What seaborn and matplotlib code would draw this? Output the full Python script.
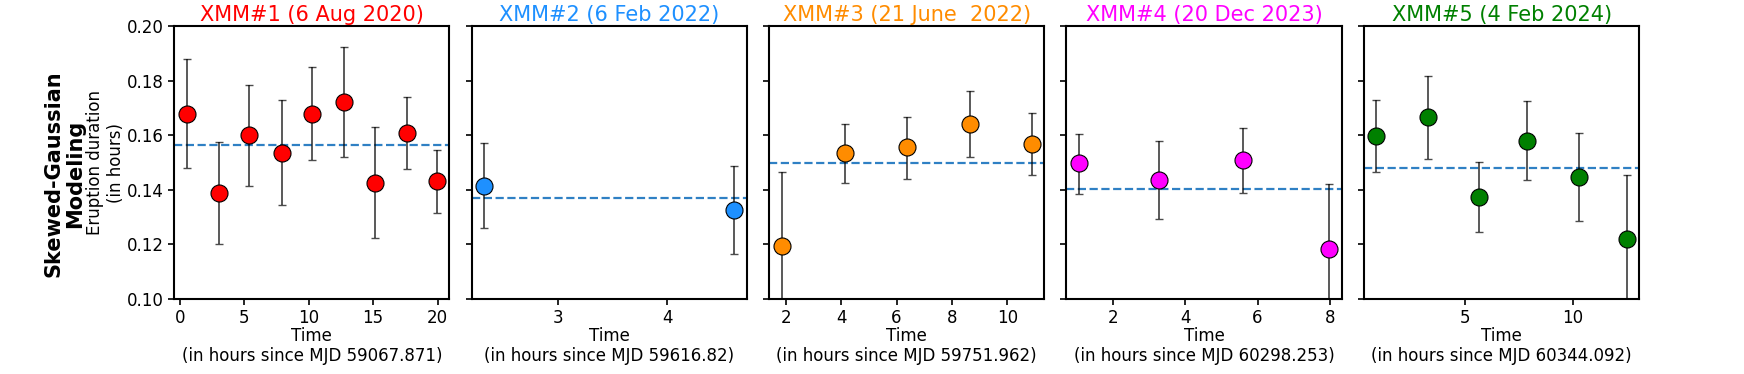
import matplotlib
matplotlib.use("Agg")
import matplotlib.pyplot as plt
import seaborn as sns
import pandas as pd

# ---- data ----
titles = ["XMM#1 (6 Aug 2020)", "XMM#2 (6 Feb 2022)", "XMM#3 (21 June  2022)",
          "XMM#4 (20 Dec 2023)", "XMM#5 (4 Feb 2024)"]
colors = ["red", "dodgerblue", "darkorange", "magenta", "green"]
xlabels = ["Time\n(in hours since MJD 59067.871)", "Time\n(in hours since MJD 59616.82)",
           "Time\n(in hours since MJD 59751.962)", "Time\n(in hours since MJD 60298.253)",
           "Time\n(in hours since MJD 60344.092)"]
xticks_list = [[0, 5, 10, 15, 20], [3, 4], [2, 4, 6, 8, 10], [2, 4, 6, 8], [5, 10]]

t1 = [0.52, 3.0, 5.36, 7.9, 10.23, 12.77, 15.15, 17.6, 19.95]
d1 = [0.1679, 0.1388, 0.1601, 0.1535, 0.1679, 0.1722, 0.1426, 0.1609, 0.1433]
lo1 = [0.0200, 0.0188, 0.0186, 0.0192, 0.0171, 0.0202, 0.0201, 0.0134, 0.0116]
hi1 = [0.0199, 0.0188, 0.0184, 0.0194, 0.0170, 0.0202, 0.0203, 0.0132, 0.0115]
m1 = 0.1563

t2 = [2.315, 4.62]
d2 = [0.1416, 0.1326]
lo2 = [0.0157, 0.0162]
hi2 = [0.0157, 0.0162]
m2 = 0.1370

t3 = [1.84, 4.13, 6.36, 8.65, 10.89]
d3 = [0.1193, 0.1534, 0.1556, 0.1642, 0.1568]
lo3 = [0.0272, 0.0109, 0.0116, 0.0121, 0.0115]
hi3 = [0.0272, 0.0107, 0.0112, 0.0122, 0.0115]
m3 = 0.1498

t4 = [1.05, 3.28, 5.60, 7.99]
d4 = [0.1497, 0.1436, 0.1508, 0.1182]
lo4 = [0.0112, 0.0144, 0.0118, 0.0238]
hi4 = [0.0109, 0.0144, 0.0117, 0.0238]
m4 = 0.1405

t5 = [0.855, 3.26, 5.62, 7.87, 10.26, 12.51]
d5 = [0.1596, 0.1667, 0.1375, 0.1580, 0.1449, 0.1220]
lo5 = [0.0132, 0.0155, 0.0131, 0.0145, 0.0162, 0.0234]
hi5 = [0.0132, 0.0151, 0.0128, 0.0145, 0.0160, 0.0234]
m5 = 0.1481

times = [t1, t2, t3, t4, t5]
durs = [d1, d2, d3, d4, d5]
lows = [lo1, lo2, lo3, lo4, lo5]
highs = [hi1, hi2, hi3, hi4, hi5]
means = [m1, m2, m3, m4, m5]

yticks = [0.10, 0.12, 0.14, 0.16, 0.18, 0.20]

# ---- figure ----
fig, axes = plt.subplots(1, 5, figsize=(17.44, 3.74), dpi=100, sharey=True)
fig.subplots_adjust(left=0.0998, right=0.94, top=0.930, bottom=0.2005, wspace=0.08)

for i, ax in enumerate(axes):
    df = pd.DataFrame({"t": times[i], "d": durs[i]})
    ax.errorbar(times[i], durs[i], yerr=[lows[i], highs[i]], fmt="none",
                ecolor="black", alpha=0.7, elinewidth=1.3, capsize=3, capthick=1, zorder=2)
    ax.axhline(means[i], color="#2f80c4", ls="--", lw=1.6, zorder=1)
    sns.scatterplot(data=df, x="t", y="d", ax=ax, color=colors[i], s=150,
                    edgecolor="black", linewidth=0.8, zorder=3, legend=False)
    ax.set_title(titles[i], color=colors[i], fontsize=15, pad=4)
    ax.set_xlabel(xlabels[i], fontsize=12, labelpad=0, linespacing=1.1)
    ax.set_ylabel("")
    ax.set_ylim(0.10, 0.20)
    ax.set_yticks(yticks)
    ax.set_xticks(xticks_list[i])
    ax.tick_params(labelsize=12, width=1.2, length=4)
    for sp in ax.spines.values():
        sp.set_linewidth(1.5)

axes[0].set_ylabel("Eruption duration\n(in hours)", fontsize=12, labelpad=1, linespacing=1.2)
fig.text(0.037, 0.536, "Skewed-Gaussian\nModeling", rotation=90, fontsize=15,
         fontweight="bold", ha="center", va="center", linespacing=1.1)

fig.savefig("out.png", dpi=100)
